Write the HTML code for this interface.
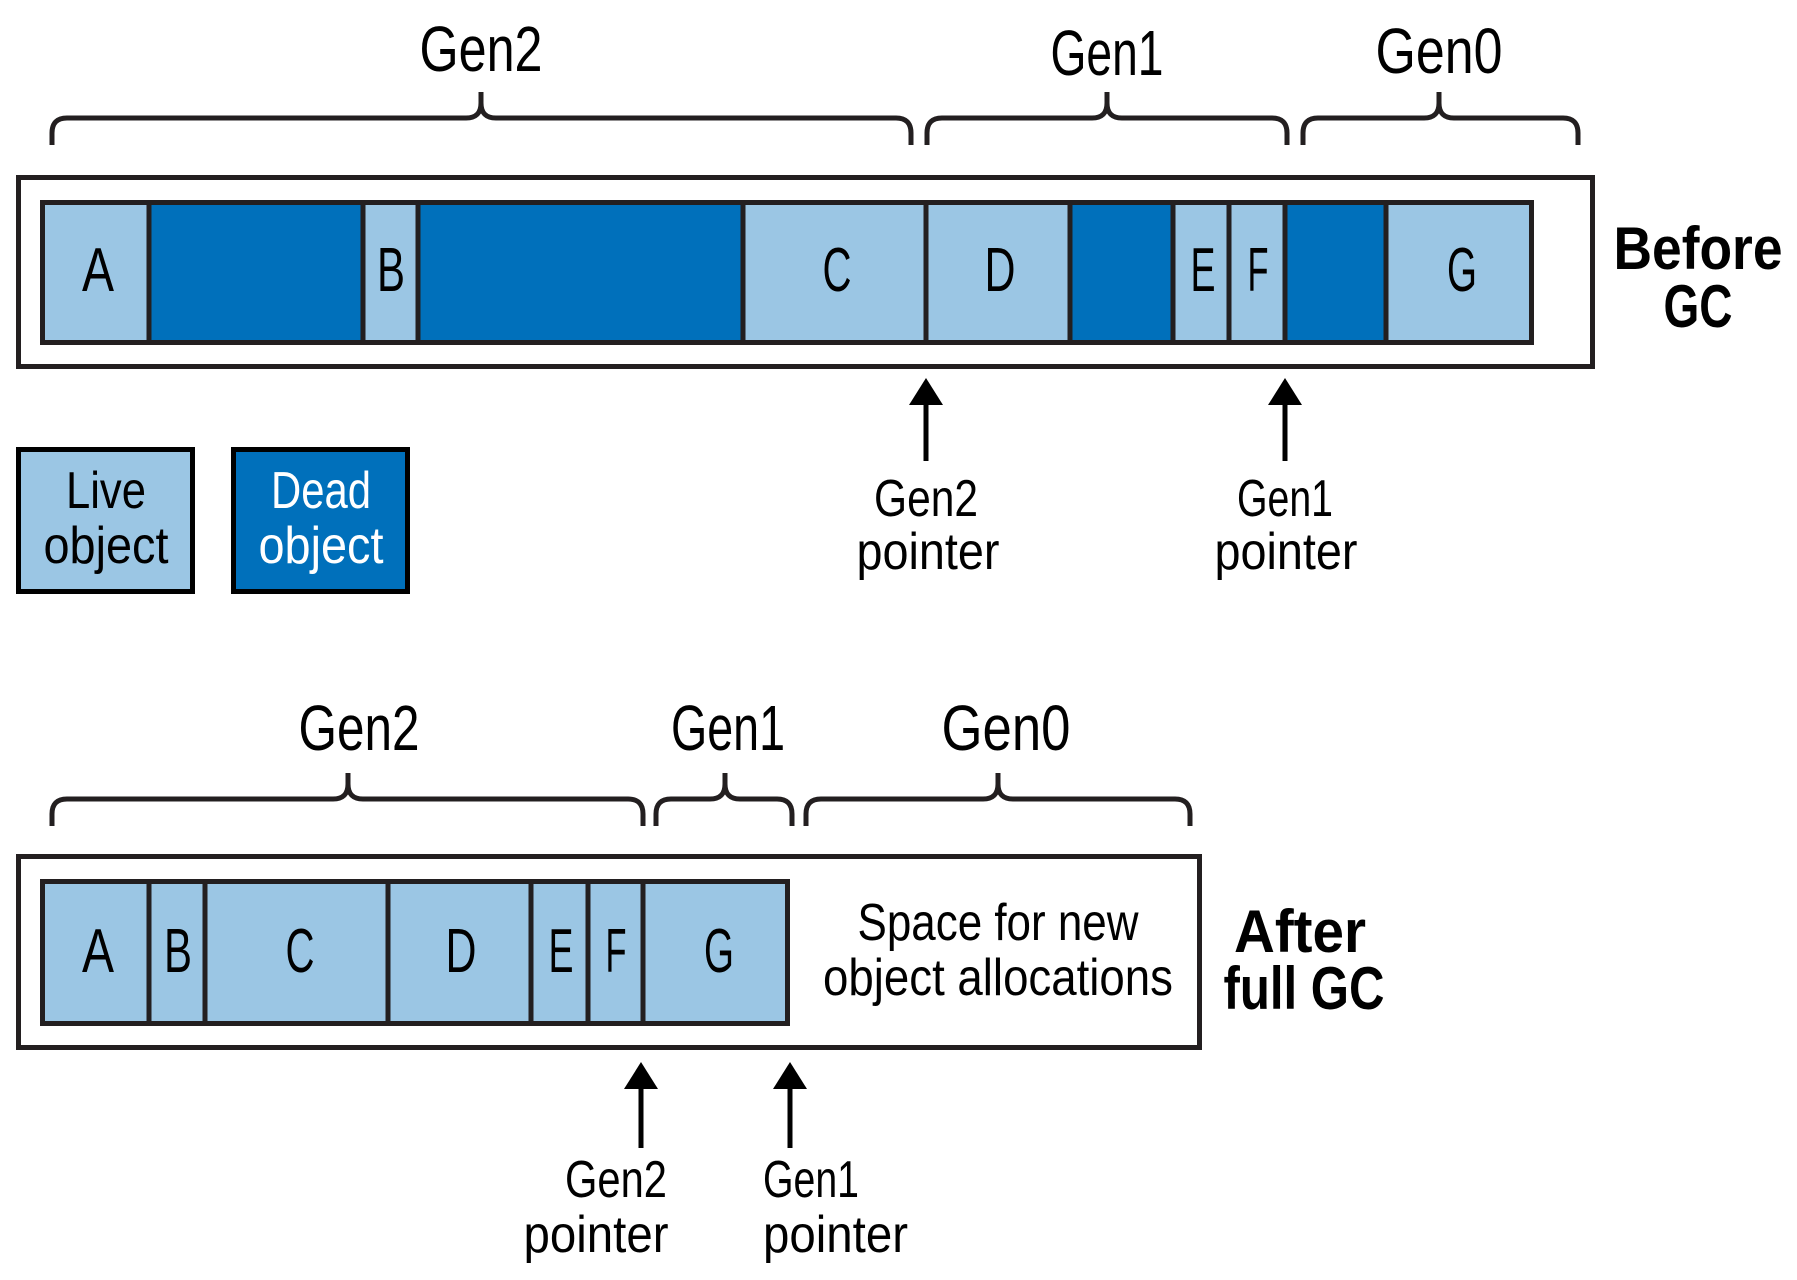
<!DOCTYPE html>
<html><head><meta charset="utf-8"><style>
html,body{margin:0;padding:0;background:#fff;}
svg{display:block;}
text{font-family:"Liberation Sans Narrow","Liberation Sans",sans-serif;fill:#000;}
.b{font-weight:bold;}
</style></head><body>
<svg width="1797" height="1280" viewBox="0 0 1797 1280" xmlns="http://www.w3.org/2000/svg">
<g fill="none" stroke="#231f20" stroke-width="5">
<path d="M52 145 V133 Q52 118 67 118 H466 Q481 118 481 103 V92 M481 103 Q481 118 496 118 H896 Q911 118 911 133 V145"/>
<path d="M927 145 V133 Q927 118 942 118 H1092 Q1107 118 1107 103 V92 M1107 103 Q1107 118 1122 118 H1272 Q1287 118 1287 133 V145"/>
<path d="M1303 145 V133 Q1303 118 1318 118 H1424 Q1439 118 1439 103 V92 M1439 103 Q1439 118 1454 118 H1563 Q1578 118 1578 133 V145"/>
<path d="M52 826 V814 Q52 799 67 799 H333 Q348 799 348 784 V773 M348 784 Q348 799 363 799 H628 Q643 799 643 814 V826"/>
<path d="M656 826 V814 Q656 799 671 799 H710 Q725 799 725 784 V773 M725 784 Q725 799 740 799 H777 Q792 799 792 814 V826"/>
<path d="M806 826 V814 Q806 799 821 799 H983 Q998 799 998 784 V773 M998 784 Q998 799 1013 799 H1175 Q1190 799 1190 814 V826"/>
</g>
<g font-size="64" text-anchor="middle">
<text x="481" y="71" textLength="123" lengthAdjust="spacingAndGlyphs">Gen2</text>
<text x="1107" y="75" textLength="113" lengthAdjust="spacingAndGlyphs">Gen1</text>
<text x="1439" y="73" textLength="127" lengthAdjust="spacingAndGlyphs">Gen0</text>
<text x="359" y="750" textLength="121" lengthAdjust="spacingAndGlyphs">Gen2</text>
<text x="728" y="750" textLength="114" lengthAdjust="spacingAndGlyphs">Gen1</text>
<text x="1006" y="750" textLength="129" lengthAdjust="spacingAndGlyphs">Gen0</text>
</g>
<rect x="18.5" y="177.5" width="1574" height="189" fill="#fff" stroke="#231f20" stroke-width="5"/>
<g stroke="none">
<rect x="40" y="200" width="109" height="145" fill="#9bc6e4"/>
<rect x="149" y="200" width="214" height="145" fill="#0070bb"/>
<rect x="363" y="200" width="55" height="145" fill="#9bc6e4"/>
<rect x="418" y="200" width="325" height="145" fill="#0070bb"/>
<rect x="743" y="200" width="183" height="145" fill="#9bc6e4"/>
<rect x="926" y="200" width="144" height="145" fill="#9bc6e4"/>
<rect x="1070" y="200" width="103" height="145" fill="#0070bb"/>
<rect x="1173" y="200" width="56" height="145" fill="#9bc6e4"/>
<rect x="1229" y="200" width="56" height="145" fill="#9bc6e4"/>
<rect x="1285" y="200" width="101" height="145" fill="#0070bb"/>
<rect x="1386" y="200" width="148" height="145" fill="#9bc6e4"/>
</g>
<g stroke="#231f20" stroke-width="5">
<line x1="149" y1="200" x2="149" y2="345"/><line x1="363" y1="200" x2="363" y2="345"/>
<line x1="418" y1="200" x2="418" y2="345"/><line x1="743" y1="200" x2="743" y2="345"/>
<line x1="926" y1="200" x2="926" y2="345"/><line x1="1070" y1="200" x2="1070" y2="345"/>
<line x1="1173" y1="200" x2="1173" y2="345"/><line x1="1229" y1="200" x2="1229" y2="345"/>
<line x1="1285" y1="200" x2="1285" y2="345"/><line x1="1386" y1="200" x2="1386" y2="345"/>
</g>
<rect x="42.5" y="202.5" width="1489" height="140" fill="none" stroke="#231f20" stroke-width="5"/>
<g font-size="62" text-anchor="middle">
<text x="98" y="291" textLength="32" lengthAdjust="spacingAndGlyphs">A</text>
<text x="391" y="291" textLength="28" lengthAdjust="spacingAndGlyphs">B</text>
<text x="837" y="291" textLength="29" lengthAdjust="spacingAndGlyphs">C</text>
<text x="1000" y="291" textLength="31" lengthAdjust="spacingAndGlyphs">D</text>
<text x="1203" y="291" textLength="25" lengthAdjust="spacingAndGlyphs">E</text>
<text x="1258" y="291" textLength="21" lengthAdjust="spacingAndGlyphs">F</text>
<text x="1462" y="291" textLength="30" lengthAdjust="spacingAndGlyphs">G</text>
</g>
<g font-size="60" text-anchor="middle">
<text class="b" x="1698" y="269" textLength="169" lengthAdjust="spacingAndGlyphs">Before</text>
<text class="b" x="1698" y="327" textLength="69" lengthAdjust="spacingAndGlyphs">GC</text>
</g>
<g fill="#000" stroke="#000">
<line x1="926" y1="395" x2="926" y2="461" stroke-width="5"/>
<polygon points="926,378 909,405 943,405" stroke="none"/>
<line x1="1285" y1="395" x2="1285" y2="461" stroke-width="5"/>
<polygon points="1285,378 1268,405 1302,405" stroke="none"/>
</g>
<g font-size="52" text-anchor="middle">
<text x="926" y="516" textLength="104" lengthAdjust="spacingAndGlyphs">Gen2</text>
<text x="928" y="569" textLength="143" lengthAdjust="spacingAndGlyphs">pointer</text>
<text x="1285" y="516" textLength="96" lengthAdjust="spacingAndGlyphs">Gen1</text>
<text x="1286" y="569" textLength="143" lengthAdjust="spacingAndGlyphs">pointer</text>
</g>
<rect x="18.5" y="449.5" width="174" height="142" fill="#9bc6e4" stroke="#000" stroke-width="5"/>
<rect x="233.5" y="449.5" width="174" height="142" fill="#0070bb" stroke="#000" stroke-width="5"/>
<g font-size="52" text-anchor="middle">
<text x="106" y="508" textLength="80" lengthAdjust="spacingAndGlyphs">Live</text>
<text x="106" y="563" textLength="125" lengthAdjust="spacingAndGlyphs">object</text>
<text x="321" y="508" textLength="100" lengthAdjust="spacingAndGlyphs" style="fill:#fff">Dead</text>
<text x="321" y="563" textLength="125" lengthAdjust="spacingAndGlyphs" style="fill:#fff">object</text>
</g>
<rect x="18.5" y="856.5" width="1181" height="191" fill="#fff" stroke="#231f20" stroke-width="5"/>
<rect x="40" y="879" width="750" height="147" fill="#9bc6e4"/>
<g stroke="#231f20" stroke-width="5">
<line x1="149" y1="879" x2="149" y2="1026"/><line x1="205" y1="879" x2="205" y2="1026"/>
<line x1="388" y1="879" x2="388" y2="1026"/><line x1="531" y1="879" x2="531" y2="1026"/>
<line x1="588" y1="879" x2="588" y2="1026"/><line x1="643" y1="879" x2="643" y2="1026"/>
</g>
<rect x="42.5" y="881.5" width="745" height="142" fill="none" stroke="#231f20" stroke-width="5"/>
<g font-size="62" text-anchor="middle">
<text x="98" y="972" textLength="32" lengthAdjust="spacingAndGlyphs">A</text>
<text x="178" y="972" textLength="28" lengthAdjust="spacingAndGlyphs">B</text>
<text x="300" y="972" textLength="29" lengthAdjust="spacingAndGlyphs">C</text>
<text x="461" y="972" textLength="31" lengthAdjust="spacingAndGlyphs">D</text>
<text x="561" y="972" textLength="25" lengthAdjust="spacingAndGlyphs">E</text>
<text x="616" y="972" textLength="21" lengthAdjust="spacingAndGlyphs">F</text>
<text x="719" y="972" textLength="30" lengthAdjust="spacingAndGlyphs">G</text>
</g>
<g font-size="52" text-anchor="middle">
<text x="998" y="940" textLength="281" lengthAdjust="spacingAndGlyphs">Space for new</text>
<text x="998" y="995" textLength="350" lengthAdjust="spacingAndGlyphs">object allocations</text>
</g>
<g font-size="60" text-anchor="middle">
<text class="b" x="1300" y="952" textLength="132" lengthAdjust="spacingAndGlyphs">After</text>
<text class="b" x="1304" y="1009" textLength="161" lengthAdjust="spacingAndGlyphs">full GC</text>
</g>
<g fill="#000" stroke="#000">
<line x1="641" y1="1080" x2="641" y2="1148" stroke-width="5"/>
<polygon points="641,1062 624,1089 658,1089" stroke="none"/>
<line x1="790" y1="1080" x2="790" y2="1148" stroke-width="5"/>
<polygon points="790,1062 773,1089 807,1089" stroke="none"/>
</g>
<g font-size="52">
<text x="616" y="1197" text-anchor="middle" textLength="102" lengthAdjust="spacingAndGlyphs">Gen2</text>
<text x="596" y="1252" text-anchor="middle" textLength="145" lengthAdjust="spacingAndGlyphs">pointer</text>
<text x="763" y="1197" textLength="96" lengthAdjust="spacingAndGlyphs">Gen1</text>
<text x="763" y="1252" textLength="145" lengthAdjust="spacingAndGlyphs">pointer</text>
</g>
</svg>
</body></html>
